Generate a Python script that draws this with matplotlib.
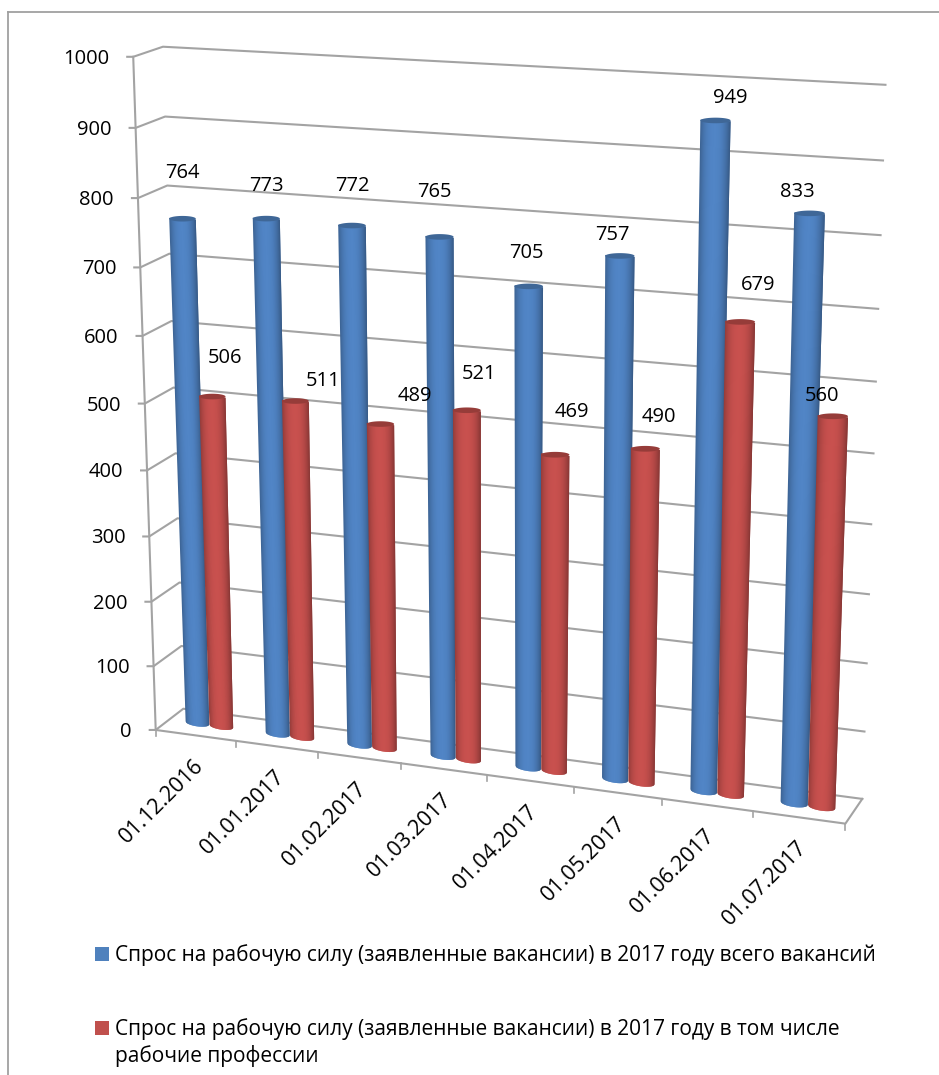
import numpy as np
import matplotlib
matplotlib.use('Agg')
import matplotlib.pyplot as plt

plt.rcParams['font.family'] = ['Open Sans', 'DejaVu Sans']

dates = ['01.12.2016', '01.01.2017', '01.02.2017', '01.03.2017',
         '01.04.2017', '01.05.2017', '01.06.2017', '01.07.2017']
total_vac = [764, 773, 772, 765, 705, 757, 949, 833]
worker_vac = [506, 511, 489, 521, 469, 490, 679, 560]
y_ticks = [0, 100, 200, 300, 400, 500, 600, 700, 800, 900, 1000]
legend_total = 'Спрос на рабочую силу (заявленные вакансии) в 2017 году всего вакансий'
legend_worker = 'Спрос на рабочую силу (заявленные вакансии) в 2017 году в том числе\nрабочие профессии'

# label offsets from the top of each bar, pixels
total_off = [(0, -43), (0, -30), (0, -37), (-5, -42), (-2, -31), (-8, -18), (15, -20), (-12, -19)]
worker_off = [(13, -36), (28, -17), (34, -25), (12, -33), (17, -40), (14, -29), (18, -34), (-11, -17)]

# frame corners and ticks seen in the picture: (category, value, depth) -> pixel
calib = [
    ((0, 0, 0), (156, 729)), ((8, 0, 0), (845, 823)), ((0, 1000, 0), (133, 57)),
    ((0, 0, 1), (183, 709)), ((8, 0, 1), (862, 799)), ((0, 1000, 1), (163, 47)),
    ((8, 1000, 1), (886, 85)), ((1, 0, 0), (236, 742)), ((2, 0, 0), (318, 753)),
    ((7, 0, 0), (753, 812)), ((0, 700, 0), (140, 267)), ((8, 500, 1), (873, 453)),
    ((0, 100, 0), (154, 665)), ((8, 100, 1), (865, 731)),
]


def fit_camera(pairs):
    rows = []
    for (u, v, d), (px, py) in pairs:
        w = [u / 8, v / 1000, d, 1]
        rows.append(w + [0, 0, 0, 0] + [-px * a for a in w])
        rows.append([0, 0, 0, 0] + w + [-py * a for a in w])
    return np.linalg.svd(np.array(rows))[2][-1].reshape(3, 4)


cam = fit_camera(calib)


def proj(u, v, d):
    p = cam @ np.array([u / 8, v / 1000, d, 1])
    return p[0] / p[2], p[1] / p[2]


def shade(base, t):
    # t runs -1..1 across the cylinder, dark at the edges
    k = 0.72 + 0.30 * (1 - abs(t + 0.05) ** 2.4)
    return tuple(min(1, c * k) for c in base)


def cylinder(ax, u, val, base, top_col, r=0.148, rd=0.16, depth=0.5):
    b0, b1 = proj(u - r, 0, depth), proj(u + r, 0, depth)
    t0, t1 = proj(u - r, val, depth), proj(u + r, val, depth)
    # the top of the bar opens out a little more than the floor does
    t0 = (t0[0] - 1, t0[1])
    t1 = (t1[0] + 1, t1[1])
    ry_b = (proj(u, 0, depth - rd)[1] - proj(u, 0, depth + rd)[1]) / 2
    ry_t = max((proj(u, val, depth - rd)[1] - proj(u, val, depth + rd)[1]) / 2, 2.8)
    edges = np.linspace(-1, 1, 31)
    for i in range(len(edges) - 1):
        a = edges[i]
        c = edges[min(i + 2, len(edges) - 1)]  # overlap the next strip, no seams
        m = (edges[i] + edges[i + 1]) / 2
        xs, ys = [], []
        for s in np.linspace(a, c, 4):
            f = (s + 1) / 2
            xs.append(b0[0] + (b1[0] - b0[0]) * f)
            ys.append(b0[1] + (b1[1] - b0[1]) * f + ry_b * np.sqrt(max(1 - s * s, 0)))
        for s in (c, a):
            f = (s + 1) / 2
            xs.append(t0[0] + (t1[0] - t0[0]) * f)
            ys.append(t0[1] + (t1[1] - t0[1]) * f)
        ax.fill(xs, ys, color=shade(base, m), lw=0, zorder=3)
    # top cap
    th = np.linspace(0, 2 * np.pi, 60)
    cx, cy = (t0[0] + t1[0]) / 2, (t0[1] + t1[1]) / 2
    hw = (t1[0] - t0[0]) / 2
    ax.fill(cx + hw * np.cos(th), cy + ry_t * np.sin(th), color=top_col, lw=0, zorder=3)
    return cx, cy - ry_t


fig = plt.figure(figsize=(9.39, 10.75), dpi=100)
ax = fig.add_axes([0, 0, 1, 1])
ax.set_xlim(0, 939)
ax.set_ylim(1075, 0)
ax.axis('off')

grid = '#a3a3a3'
# outer border
ax.plot([8, 8], [12, 1075], color='#a0a0a0', lw=1.3, zorder=1)
ax.plot([8, 939], [12, 12], color='#a0a0a0', lw=1.3, zorder=1)

# walls
for v in y_ticks:
    a, b, c = proj(0, v, 0), proj(0, v, 1), proj(8, v, 1)
    ax.plot([a[0] - 6, a[0], b[0], c[0]], [a[1], a[1], b[1], c[1]], color=grid, lw=1.5, zorder=2)
    ax.text(a[0] - 24, a[1] + 2, str(v), ha='right', va='center', fontsize=14.5, color='black')
a, b = proj(0, 0, 0), proj(0, 1000, 0)
ax.plot([a[0], b[0]], [a[1], b[1]], color=grid, lw=1.5, zorder=2)
# floor
f = [proj(0, 0, 0), proj(8, 0, 0), proj(8, 0, 1)]
ax.plot([p[0] for p in f], [p[1] for p in f], color=grid, lw=1.5, zorder=2)
for i in range(len(dates) + 1):
    p = proj(i, 0, 0)
    ax.plot([p[0], p[0]], [p[1], p[1] + 6], color=grid, lw=1.2, zorder=2)

for i, d in enumerate(dates):
    top = cylinder(ax, i + 0.35, total_vac[i], (0.31, 0.51, 0.76), '#3f6797')
    ax.text(top[0] + total_off[i][0], top[1] + total_off[i][1], str(total_vac[i]),
            ha='center', va='center', fontsize=14.5, zorder=5)
    top = cylinder(ax, i + 0.65, worker_vac[i], (0.77, 0.31, 0.30), '#963c39')
    ax.text(top[0] + worker_off[i][0], top[1] + worker_off[i][1], str(worker_vac[i]),
            ha='center', va='center', fontsize=14.5, zorder=5)
    p = proj(i + 0.5, 0, 0)
    ax.text(p[0] - 3, p[1] + 20, d, rotation=45, rotation_mode='anchor', ha='right', va='top',
            fontsize=15.5, zorder=5)

# legend
ax.fill([95, 109, 109, 95], [947, 947, 961, 961], color='#4f81bd', lw=0)
ax.fill([95, 109, 109, 95], [1021, 1021, 1035, 1035], color='#c0504d', lw=0)
ax.text(115, 955, legend_total, ha='left', va='center', fontsize=15)
ax.text(115, 1043, legend_worker, ha='left', va='center', fontsize=15, linespacing=1.3)

fig.savefig('out.png', dpi=100)
